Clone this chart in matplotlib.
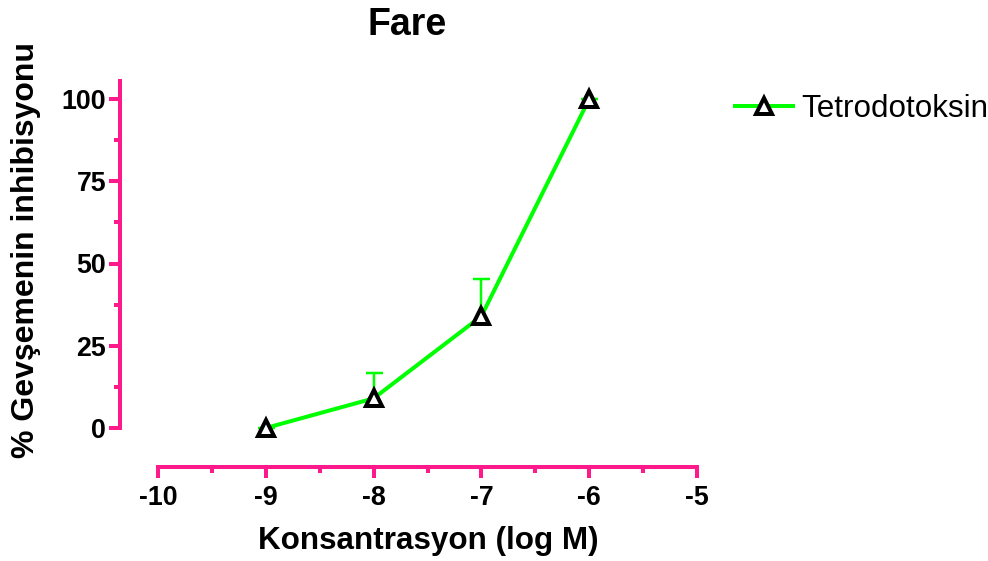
import matplotlib
matplotlib.use("Agg")
import matplotlib.pyplot as plt
from matplotlib.lines import Line2D
from matplotlib.ticker import MultipleLocator

plt.rcParams['font.family'] = ['Liberation Sans', 'DejaVu Sans']

# Concentration (log M) and percent inhibition of relaxation
log_conc = [-9, -8, -7, -6]
inhibition = [0, 9, 34, 100]
sem_upper = [0, 7.8, 11.2, 0]
series_name = "Tetrodotoksin"
y_ticks = [0, 25, 50, 75, 100]
x_ticks = [-10, -9, -8, -7, -6, -5]

W, H, DPI = 988, 561, 100
PT = 72 / DPI  # points per pixel
fig = plt.figure(figsize=(W / DPI, H / DPI), dpi=DPI)

left_px, right_px, top_px, bottom_px = 158, 697, 81, 467
ax = fig.add_axes([left_px / W, 1 - bottom_px / H,
                   (right_px - left_px) / W, (bottom_px - top_px) / H])

pink = '#FF1A8C'
green = '#00FF00'

ax.set_xlim(-10, -5)
y_per_px = 100 / (428 - 99)
ymax = (428 - top_px) * y_per_px
ymin = -(bottom_px - 428) * y_per_px
ax.set_ylim(ymin, ymax)

# error bars (upper only)
_, caps, _ = ax.errorbar(log_conc, inhibition,
                         yerr=[[0] * len(sem_upper), sem_upper],
                         fmt='none', ecolor=green, elinewidth=2.5 * PT,
                         capsize=8.5 * PT, capthick=2.5 * PT, zorder=2)
caps[0].set_visible(False)
ax.plot(log_conc, inhibition, color=green, lw=4 * PT, zorder=3)
ax.plot(log_conc, inhibition, linestyle='none', marker='^', markersize=16 * PT,
        markerfacecolor='white', markeredgecolor='black', markeredgewidth=4 * PT,
        zorder=4, clip_on=False)

for s in ['top', 'right']:
    ax.spines[s].set_visible(False)
ax.spines['left'].set_bounds(0, ymax)
ax.spines['left'].set_position(('outward', 38 * PT))
ax.spines['bottom'].set_bounds(-10, -5)
for s in ['left', 'bottom']:
    ax.spines[s].set_color(pink)
    ax.spines[s].set_linewidth(4 * PT)
    ax.spines[s].set_capstyle('projecting')

ax.set_yticks(y_ticks)
ax.set_yticks([12.5, 37.5, 62.5, 87.5], minor=True)
ax.set_xticks(x_ticks)
ax.xaxis.set_minor_locator(MultipleLocator(0.5))
ax.tick_params(which='major', direction='out', length=11 * PT, width=4 * PT,
               color=pink, labelsize=19.3, pad=3 * PT)
ax.tick_params(axis='x', which='major', pad=7 * PT)
ax.tick_params(which='minor', direction='out', length=6 * PT, width=4 * PT,
               color=pink)
ax.set_xticklabels([str(v) for v in x_ticks])
ax.set_yticklabels([str(v) for v in y_ticks])
for lab in ax.get_xticklabels() + ax.get_yticklabels():
    lab.set_fontweight('bold')

fig.text(407 / W, 1 - 25 / H, "Fare", ha='center', va='center',
         fontsize=27, fontweight='bold')
fig.text(428 / W, 1 - 541 / H, "Konsantrasyon (log M)", ha='center', va='center',
         fontsize=22.6, fontweight='bold')
fig.text(26 / W, 1 - 250 / H, "% Gevşemenin inhibisyonu", ha='center', va='center',
         rotation=90, fontsize=23, fontweight='bold')

handle = Line2D([], [], color=green, lw=4 * PT, marker='^', markersize=16 * PT,
                markerfacecolor='white', markeredgecolor='black',
                markeredgewidth=4 * PT)
fig.legend([handle], [series_name], loc='center left',
           bbox_to_anchor=(735 / W, 1 - 109 / H), frameon=False,
           fontsize=22.6, handlelength=58 / (22.6 / PT), handletextpad=0.25,
           borderpad=0, borderaxespad=0)

fig.savefig("out.png", dpi=DPI)
